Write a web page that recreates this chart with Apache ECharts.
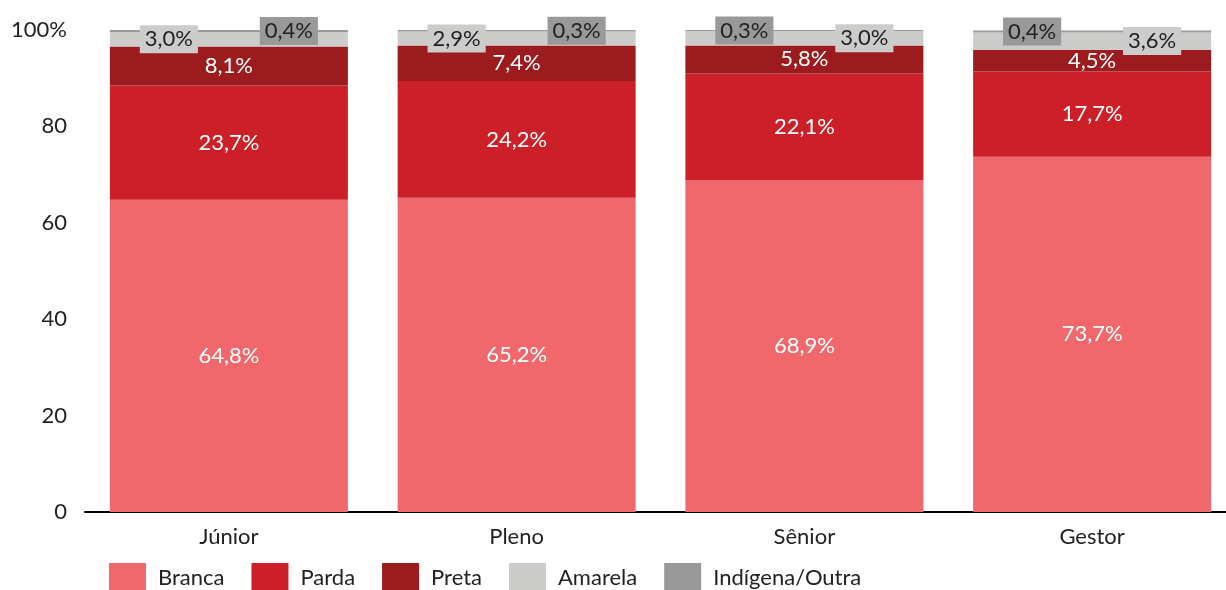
<!DOCTYPE html>
<html>
<head>
<meta charset="utf-8">
<title>Raça/cor por nível</title>
<script src="https://cdn.jsdelivr.net/npm/echarts@6/dist/echarts.min.js"></script>
<style>
    html, body { margin: 0; padding: 0; background: #fff; }
    #chart { width: 1226px; height: 590px; }
</style>
</head>
<body>
<div id="chart"></div>
<script>
// dados (%)
const categorias = ['Júnior', 'Pleno', 'Sênior', 'Gestor'];
const branca = [64.8, 65.2, 68.9, 73.7];
const parda = [23.7, 24.2, 22.1, 17.7];
const preta = [8.1, 7.4, 5.8, 4.5];
const amarela = [3.0, 2.9, 3.0, 3.6];
const indigena = [0.4, 0.3, 0.3, 0.4];
const yTicks = [0, 20, 40, 60, 80, 100];

// lado dos rótulos pequenos (-1 esquerda, 1 direita)
const ladoAmarela = [-1, -1, 1, 1];
const ladoIndigena = [1, 1, -1, -1];

const FONT = 'Lato';
const fmt = p => p.value.toFixed(1).replace('.', ',') + '%';

const chart = echarts.init(document.getElementById('chart'));

function serieGrande(name, data, color) {
    return {
        name, type: 'bar', stack: 'total', data,
        barWidth: 238,
        itemStyle: { color },
        label: {
            show: true, position: 'inside', formatter: fmt,
            color: '#fff', fontFamily: FONT, fontSize: 22
        }
    };
}

function seriePequena(name, data, lados, color) {
    return {
        name, type: 'bar', stack: 'total', barWidth: 238,
        itemStyle: { color },
        data: data.map((v, i) => ({ value: v, label: { offset: [60 * lados[i], 0] } })),
        label: {
            show: true, position: 'inside', formatter: fmt,
            color: '#222', fontFamily: FONT, fontSize: 22, lineHeight: 22,
            backgroundColor: color, padding: [3, 5]
        }
    };
}

const option = {
    animation: false,
    textStyle: { fontFamily: FONT },
    grid: { left: 85, top: 30, width: 1151, height: 482, outerBoundsMode: 'none' },
    legend: {
        left: 109, top: 563, padding: 0,
        itemWidth: 37, itemHeight: 30, itemGap: 27,
        icon: 'rect',
        textStyle: { fontFamily: FONT, fontSize: 22, color: '#222', padding: [0, 0, 0, 7] },
        data: ['Branca', 'Parda', 'Preta', 'Amarela', 'Indígena/Outra']
    },
    xAxis: {
        type: 'category', data: categorias,
        axisLine: { lineStyle: { color: '#000', width: 2 } },
        axisTick: { show: false },
        axisLabel: { color: '#222', fontFamily: FONT, fontSize: 22, margin: 14 }
    },
    yAxis: {
        type: 'value', min: yTicks[0], max: yTicks[yTicks.length - 1], interval: 20,
        axisLine: { show: false },
        axisTick: { show: false },
        splitLine: { show: false },
        axisLabel: {
            color: '#222', fontFamily: FONT, fontSize: 22, margin: 18,
            formatter: v => v === 100 ? '100%' : String(v)
        }
    },
    series: [
        serieGrande('Branca', branca, '#F0686B'),
        serieGrande('Parda', parda, '#CC1F27'),
        serieGrande('Preta', preta, '#9B1B1F'),
        seriePequena('Amarela', amarela, ladoAmarela, '#CCCCCA'),
        seriePequena('Indígena/Outra', indigena, ladoIndigena, '#999999')
    ]
};

chart.setOption(option);
</script>
</body>
</html>
